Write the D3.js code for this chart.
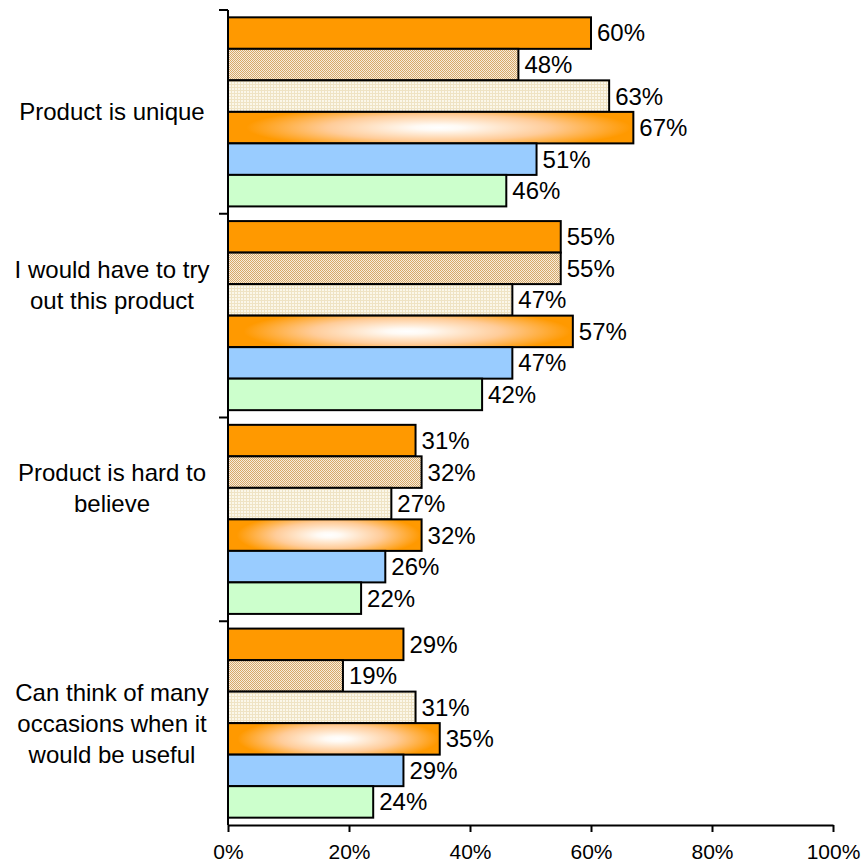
<!DOCTYPE html>
<html>
<head>
<meta charset="utf-8">
<script src="https://cdn.jsdelivr.net/npm/d3@7"></script>
<style>
  html, body { margin: 0; padding: 0; background: #ffffff; }
  svg { display: block; font-family: Arial, "Liberation Sans", sans-serif; }
</style>
</head>
<body>
<svg id="chart" width="863" height="866"></svg>
<script>
// Category labels, one entry per line of the wrapped label
const categories = [
  ["Product is unique"],
  ["I would have to try", "out this product"],
  ["Product is hard to", "believe"],
  ["Can think of many", "occasions when it", "would be useful"]
];

// Six series, values in percent, one value per category (top to bottom)
const series1 = [60, 55, 31, 29];
const series2 = [48, 55, 32, 19];
const series3 = [63, 47, 27, 31];
const series4 = [67, 57, 32, 35];
const series5 = [51, 47, 26, 29];
const series6 = [46, 42, 22, 24];
const seriesList = [series1, series2, series3, series4, series5, series6];

const xTicks = [0, 20, 40, 60, 80, 100];

const svg = d3.select("#chart");
const defs = svg.append("defs");

// Fill for series 2: fine tan/white checker
const p2 = defs.append("pattern").attr("id", "fillChecker")
  .attr("patternUnits", "userSpaceOnUse").attr("width", 2).attr("height", 2);
p2.append("rect").attr("width", 2).attr("height", 2).attr("fill", "#f7ecdc");
p2.append("rect").attr("width", 1).attr("height", 1).attr("fill", "#d6a868");
p2.append("rect").attr("x", 1).attr("y", 1).attr("width", 1).attr("height", 1).attr("fill", "#d6a868");

// Fill for series 3: cream with a faint grid
const p3 = defs.append("pattern").attr("id", "fillGrid")
  .attr("patternUnits", "userSpaceOnUse").attr("width", 3).attr("height", 3);
p3.append("rect").attr("width", 3).attr("height", 3).attr("fill", "#fbf7ea");
p3.append("rect").attr("width", 3).attr("height", 1).attr("fill", "#efe3c4");
p3.append("rect").attr("width", 1).attr("height", 3).attr("fill", "#efe3c4");

// Fill for series 4: orange edges fading to a white centre
const g4 = defs.append("radialGradient").attr("id", "fillGlow")
  .attr("cx", 0.52).attr("cy", 0.5).attr("r", 0.5)
  .attr("gradientTransform", "translate(0.52 0.5) scale(1 1.5) translate(-0.52 -0.5)");
g4.append("stop").attr("offset", 0).attr("stop-color", "#ffffff");
g4.append("stop").attr("offset", 0.12).attr("stop-color", "#fffaf4");
g4.append("stop").attr("offset", 0.55).attr("stop-color", "#ffcc99");
g4.append("stop").attr("offset", 0.95).attr("stop-color", "#ff9900");

const fills = ["#ff9900", "url(#fillChecker)", "url(#fillGrid)", "url(#fillGlow)", "#99ccff", "#ccffcc"];

const plotLeft = 228, plotRight = 833, plotTop = 10, plotBottom = 825;

const x = d3.scaleLinear().domain([0, 100]).range([plotLeft, plotRight]);

const catIndex = d3.range(categories.length);
const yBand = d3.scaleBand().domain(catIndex).range([plotTop, plotBottom])
  .paddingInner(0.072).paddingOuter(0.036);
const ySub = d3.scaleBand().domain(d3.range(seriesList.length)).range([0, yBand.bandwidth()]);

// Bars
const rows = [];
seriesList.forEach((vals, s) => vals.forEach((v, c) => rows.push({ s, c, v })));

svg.append("g").selectAll("rect").data(rows).join("rect")
  .attr("x", x(0))
  .attr("y", d => yBand(d.c) + ySub(d.s))
  .attr("width", d => x(d.v) - x(0))
  .attr("height", ySub.bandwidth())
  .attr("fill", d => fills[d.s])
  .attr("stroke", "#000")
  .attr("stroke-width", 2);

// Value labels
svg.append("g").selectAll("text").data(rows).join("text")
  .attr("x", d => x(d.v) + 6)
  .attr("y", d => yBand(d.c) + ySub(d.s) + ySub.bandwidth() / 2)
  .attr("dy", "0.35em")
  .attr("font-size", 24)
  .attr("fill", "#000")
  .text(d => d.v + "%");

// Category axis: vertical line with outward ticks at the category boundaries
const yAxis = svg.append("g");
yAxis.append("line")
  .attr("x1", plotLeft).attr("x2", plotLeft)
  .attr("y1", plotTop).attr("y2", plotBottom)
  .attr("stroke", "#000").attr("stroke-width", 2);
const boundaries = catIndex.map(i => yBand(i) - yBand.step() * yBand.paddingInner() / 2);
yAxis.selectAll("line.tick").data(boundaries).join("line")
  .attr("class", "tick")
  .attr("x1", plotLeft - 9).attr("x2", plotLeft)
  .attr("y1", d => d).attr("y2", d => d)
  .attr("stroke", "#000").attr("stroke-width", 2);

// Category labels, centred in the band. Labels with an even number of lines
// are laid out in a block two lines taller and set from its top.
const lineH = 31;
const labels = svg.append("g").attr("font-size", 24).attr("text-anchor", "middle");
categories.forEach((lines, i) => {
  const cy = yBand(i) + yBand.bandwidth() / 2;
  const slots = lines.length % 2 === 0 ? lines.length + 2 : lines.length;
  const t = labels.append("text").attr("x", 112);
  lines.forEach((ln, k) => {
    t.append("tspan").attr("x", 112)
      .attr("y", cy + (k - (slots - 1) / 2) * lineH)
      .attr("dy", "0.35em")
      .text(ln);
  });
});

// Value axis
const xAxis = svg.append("g").attr("transform", `translate(0,${plotBottom})`)
  .call(d3.axisBottom(x).tickValues(xTicks).tickSizeInner(7).tickSizeOuter(0).tickPadding(12)
    .tickFormat(d => d + "%"));
xAxis.select(".domain").attr("stroke", "#000").attr("stroke-width", 2);
xAxis.selectAll(".tick line").attr("stroke", "#000").attr("stroke-width", 2);
xAxis.selectAll(".tick text").attr("font-size", 21).attr("fill", "#000")
  .attr("font-family", "Arial, 'Liberation Sans', sans-serif");
</script>
</body>
</html>
